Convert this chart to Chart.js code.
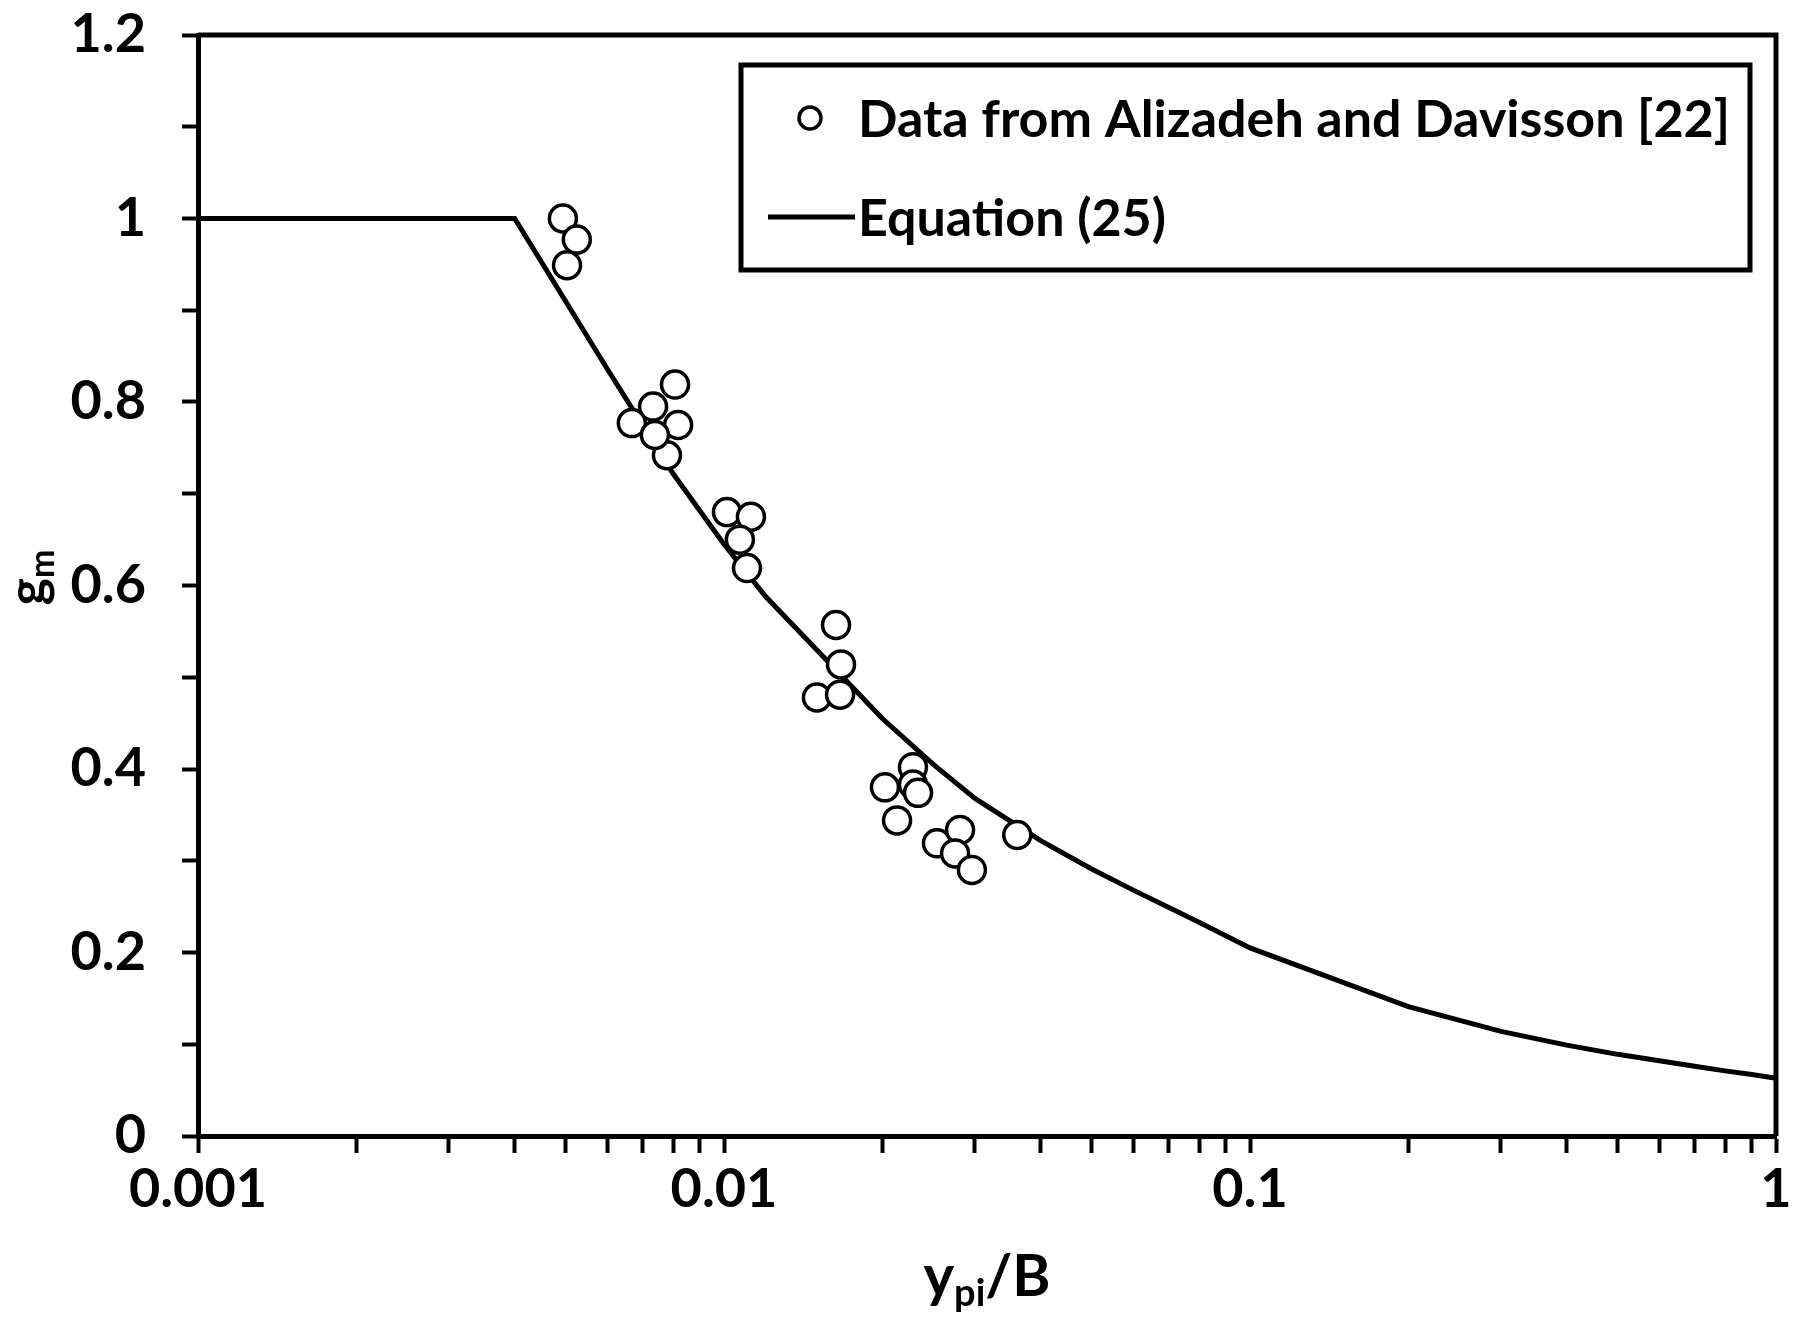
<!DOCTYPE html>
<html>
<head>
<meta charset="utf-8">
<script src="https://cdn.jsdelivr.net/npm/chart.js@4.4.1/dist/chart.umd.min.js"></script>
<style>
html,body{margin:0;padding:0;background:#fff;}
#wrap{width:1793px;height:1323px;position:relative;}
</style>
</head>
<body>
<div id="wrap"><canvas id="c" width="1793" height="1323"></canvas></div>
<script>
// ---- data ----
const curveX = [0.001, 0.004, 0.006, 0.008, 0.01, 0.012, 0.015, 0.02, 0.025, 0.03, 0.04, 0.05, 0.06, 0.08, 0.1, 0.2, 0.3, 0.4, 0.5, 0.6, 0.7, 0.8, 0.9, 1];
const curveY = [1, 1, 0.836, 0.722, 0.645, 0.588, 0.530, 0.455, 0.405, 0.368, 0.322, 0.291, 0.268, 0.233, 0.205, 0.141, 0.114, 0.099, 0.089, 0.082, 0.076, 0.071, 0.067, 0.063];

const dataX = [0.00494, 0.00525, 0.00503, 0.00668, 0.00733, 0.00807, 0.00818, 0.00779, 0.00739,
               0.01013, 0.01125, 0.01072, 0.01106, 0.01633, 0.01669, 0.01502, 0.01662,
               0.02287, 0.02023, 0.02287, 0.02338, 0.02133, 0.0254, 0.0281, 0.0275, 0.0296, 0.0361];
const dataY = [1.0, 0.977, 0.949, 0.777, 0.795, 0.819, 0.775, 0.742, 0.764,
               0.680, 0.675, 0.650, 0.619, 0.557, 0.514, 0.478, 0.481,
               0.402, 0.380, 0.383, 0.374, 0.344, 0.319, 0.3335, 0.308, 0.290, 0.328];

const seriesLabels = ['Data from Alizadeh and Davisson [22]', 'Equation (25)'];

const xTickValues = [0.001,0.002,0.003,0.004,0.005,0.006,0.007,0.008,0.009,
                     0.01,0.02,0.03,0.04,0.05,0.06,0.07,0.08,0.09,
                     0.1,0.2,0.3,0.4,0.5,0.6,0.7,0.8,0.9,1];
const xMajorTicks = [0.001, 0.01, 0.1, 1];
const xMajorLabels = ['0.001', '0.01', '0.1', '1'];

const yTickValues = [0,0.1,0.2,0.3,0.4,0.5,0.6,0.7,0.8,0.9,1.0,1.1,1.2];
const yTickLabels = ['0','','0.2','','0.4','','0.6','','0.8','','1','','1.2'];

const xTitleParts = ['y', 'pi', '/B'];
const yTitleParts = ['g', 'm'];

// ---- styling ----
const FONT = 'Lato';

const framePlugin = {
  id: 'frame',
  afterDatasetsDraw(chart) {
    const {ctx, chartArea: a} = chart;
    ctx.save();
    ctx.strokeStyle = '#000';
    ctx.lineWidth = 5;
    ctx.beginPath();
    ctx.moveTo(a.left, a.top);
    ctx.lineTo(a.right, a.top);
    ctx.lineTo(a.right, a.bottom);
    ctx.stroke();
    ctx.restore();
  }
};

const legendPlugin = {
  id: 'boxLegend',
  afterDraw(chart) {
    const {ctx, chartArea: a} = chart;
    const x1 = a.left + 543, y1 = a.top + 30, x2 = a.right - 26, y2 = a.top + 235;
    ctx.save();
    ctx.fillStyle = '#fff';
    ctx.fillRect(x1, y1, x2 - x1, y2 - y1);
    ctx.strokeStyle = '#000';
    ctx.lineWidth = 5;
    ctx.strokeRect(x1, y1, x2 - x1, y2 - y1);
    const row1 = y1 + 53, row2 = y1 + 152;
    // marker
    ctx.beginPath();
    ctx.arc(x1 + 69, row1, 11, 0, Math.PI * 2);
    ctx.fillStyle = '#fff';
    ctx.fill();
    ctx.lineWidth = 3.5;
    ctx.stroke();
    // line sample
    ctx.beginPath();
    ctx.moveTo(x1 + 27, row2);
    ctx.lineTo(x1 + 114, row2);
    ctx.lineWidth = 5;
    ctx.stroke();
    ctx.fillStyle = '#000';
    ctx.font = `bold 52px ${FONT}`;
    ctx.textBaseline = 'middle';
    ctx.textAlign = 'left';
    ctx.fillText(seriesLabels[0], x1 + 117, row1 + 2);
    ctx.fillText(seriesLabels[1], x1 + 117, row2 + 2);
    ctx.restore();
  }
};

function drawSubText(ctx, parts, cx, baseline, mainSize, subSize, subDrop) {
  const fonts = parts.map((p, i) => `bold ${i === 1 ? subSize : mainSize}px ${FONT}`);
  let total = 0;
  const widths = parts.map((p, i) => { ctx.font = fonts[i]; const w = ctx.measureText(p).width; total += w; return w; });
  let x = cx - total / 2;
  parts.forEach((p, i) => {
    ctx.font = fonts[i];
    ctx.fillText(p, x, baseline + (i === 1 ? subDrop : 0));
    x += widths[i];
  });
}

const titlePlugin = {
  id: 'axisTitles',
  afterDraw(chart) {
    const {ctx, chartArea: a} = chart;
    ctx.save();
    ctx.fillStyle = '#000';
    ctx.textAlign = 'left';
    ctx.textBaseline = 'alphabetic';
    // x title
    drawSubText(ctx, xTitleParts, (a.left + a.right) / 2 + 0, a.bottom + 160, 58, 38, 10);
    // y title (rotated)
    ctx.translate(45, (a.top + a.bottom) / 2 - 8);
    ctx.rotate(-Math.PI / 2);
    drawSubText(ctx, yTitleParts, 0, 0, 52, 34, 9);
    ctx.restore();
  }
};

function build() {
  const ctx = document.getElementById('c').getContext('2d');
  new Chart(ctx, {
    type: 'scatter',
    data: {
      datasets: [
        {
          label: seriesLabels[0],
          data: dataX.map((x, i) => ({x: x, y: dataY[i]})),
          showLine: false,
          pointRadius: 13.5,
          pointBorderWidth: 3.5,
          pointBackgroundColor: '#fff',
          pointBorderColor: '#000',
          order: 0
        },
        {
          label: seriesLabels[1],
          data: curveX.map((x, i) => ({x: x, y: curveY[i]})),
          showLine: true,
          borderColor: '#000',
          borderWidth: 5,
          pointRadius: 0,
          tension: 0,
          order: 1
        }
      ]
    },
    options: {
      responsive: false,
      animation: false,
      devicePixelRatio: 1,
      layout: {padding: {top: 35, right: 17, left: 0, bottom: 0}},
      plugins: {legend: {display: false}, tooltip: {enabled: false}},
      scales: {
        x: {
          type: 'logarithmic',
          min: 0.001, max: 1,
          afterBuildTicks(scale) { scale.ticks = xTickValues.map(v => ({value: v})); },
          afterFit(scale) { scale.height = 187; scale.paddingLeft = 0; scale.paddingRight = 0; },
          ticks: {
            autoSkip: false, maxRotation: 0, minRotation: 0,
            padding: 4,
            color: '#000',
            font: {family: FONT, weight: 'bold', size: 54},
            callback(value) {
              const i = xMajorTicks.findIndex(m => Math.abs(m - value) / m < 1e-6);
              return i >= 0 ? xMajorLabels[i] : '';
            }
          },
          grid: {display: true, drawOnChartArea: false, drawTicks: true, tickLength: 17, tickColor: '#000', tickWidth: 4, color: '#000'},
          border: {display: true, color: '#000', width: 5}
        },
        y: {
          type: 'linear',
          min: 0, max: 1.2,
          afterBuildTicks(scale) { scale.ticks = yTickValues.map(v => ({value: v})); },
          afterFit(scale) { scale.width = 198; scale.paddingTop = 0; scale.paddingBottom = 0; },
          ticks: {
            autoSkip: false,
            padding: 36,
            color: '#000',
            font: {family: FONT, weight: 'bold', size: 54},
            callback(value, index) { return yTickLabels[index]; }
          },
          grid: {display: true, drawOnChartArea: false, drawTicks: true, tickLength: 16, tickColor: '#000', tickWidth: 4, color: '#000'},
          border: {display: true, color: '#000', width: 5}
        }
      }
    },
    plugins: [framePlugin, legendPlugin, titlePlugin]
  });
}

Promise.all([
  document.fonts.load(`bold 54px ${FONT}`),
  document.fonts.load(`bold 52px ${FONT}`)
]).then(build, build);
</script>
</body>
</html>
